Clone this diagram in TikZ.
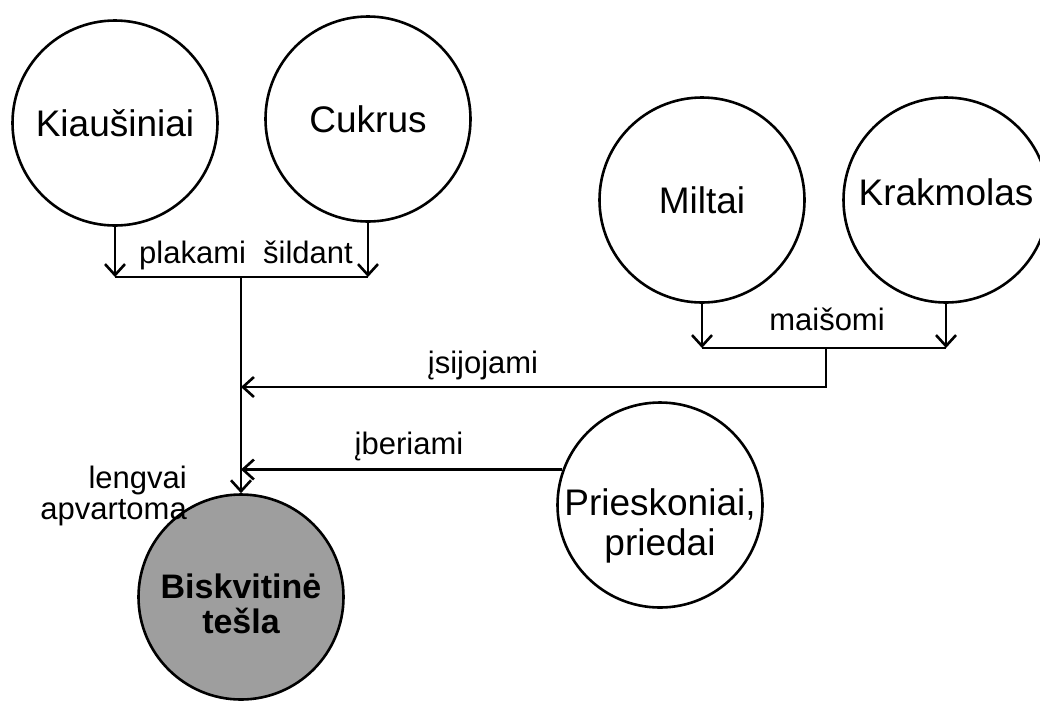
\documentclass[tikz,border=0pt]{standalone}
\usepackage{fontspec}
\setmainfont{Liberation Sans}
\usetikzlibrary{
	calc,
	arrows.meta,
	positioning
	}
\tikzstyle{noeud-ingr}=[draw,circle,line width=2.6pt,inner sep=0pt,minimum size=205pt,align=center,text height=26pt,text depth=0pt,font={\fontsize{37pt}{40pt}\selectfont}]
\tikzstyle{noeud-pate}=[noeud-ingr,fill=black!38,font={\bfseries\fontsize{34pt}{35pt}\selectfont}]
\tikzstyle{etiq}=[inner sep=0pt,anchor=base,font={\fontsize{31pt}{31pt}\selectfont}]
\tikzstyle{trait}=[line width=2.8pt]
\tikzstyle{fleche}=[trait,-{Straight Barb[length=11pt,width=20pt,line width=2.6pt]}]

\begin{document}
\begin{tikzpicture}[x=1pt,y=-1pt]
            \useasboundingbox (0,0) rectangle (1040,702);
            % ingredients
            \node[noeud-ingr] (kiaus) at (115,123) {Kiaušiniai};
            \node[noeud-ingr] (cukrus) at (368,119) {Cukrus};
            \node[noeud-ingr] (miltai) at (702,200) {Miltai};
            \node[noeud-ingr, text height=10pt] (krakm) at (946,200) {Krakmolas};
            \node[noeud-ingr, text height=100pt, inner sep=-8pt] (priesk) at (660,505) {Prieskoniai,\\priedai};
            \node[noeud-pate, text height=72pt] (tesla) at (241,597) {Biskvitinė\\tešla};
            %
            \coordinate (plak) at (241,277);
            \coordinate (mais) at (826,348);
            \coordinate (sij) at (826,387);

            \draw[fleche] (kiaus.south) -- (kiaus.south |- plak);
            \draw[fleche] (cukrus.south) -- (cukrus.south |- plak);
            \draw[trait] (kiaus.south |- plak) -- (cukrus.south |- plak);
            \draw[fleche] (plak) -- (tesla.north);

            \draw[fleche] (miltai.south) -- (miltai.south |- mais);
            \draw[fleche] (krakm.south) -- (krakm.south |- mais);
            \draw[trait] (miltai.south |- mais) -- (krakm.south |- mais);
            \draw[fleche] (mais) -- (sij) -- (sij -| plak);

            \draw[fleche] (priesk.160) -- (priesk.160 -| plak);
            %
            \node[etiq] (plakami) at (246,263) {plakami\ \ šildant};
            \node[etiq] (maisomi) at (827,330) {maišomi};
            \node[etiq] (sijojami) at (483,373) {įsijojami};
            \node[etiq] (beriami) at (409,454) {įberiami};
            \node[etiq, anchor=east, align=right] (lengvai) at (187,496) {lengvai\\apvartoma};
        \end{tikzpicture}
\end{document}
